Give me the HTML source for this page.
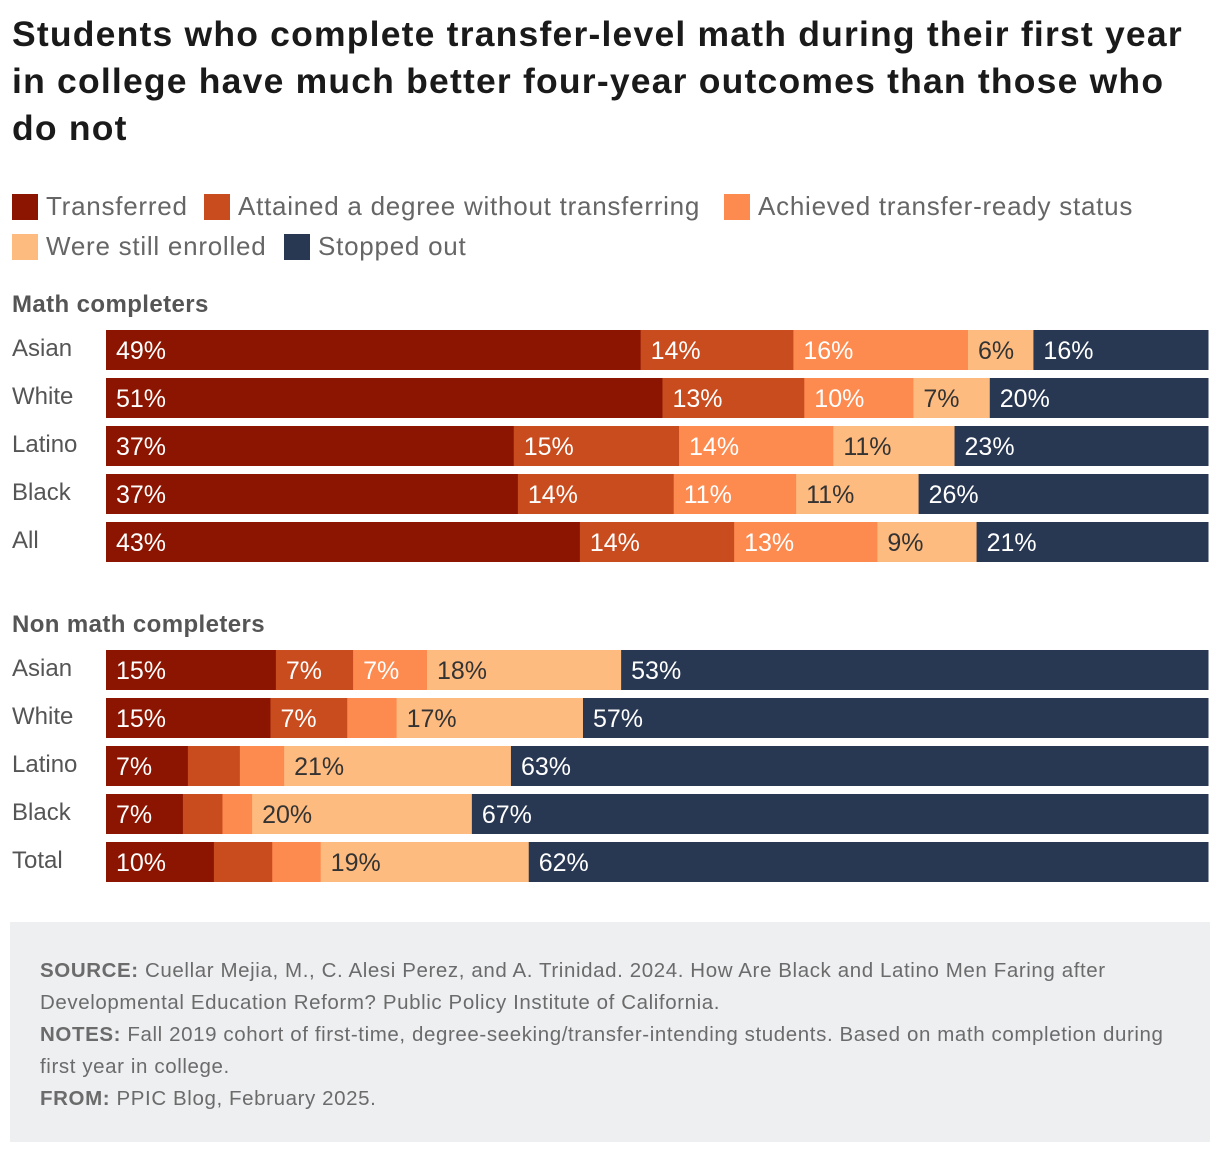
<!DOCTYPE html>
<html><head><meta charset="utf-8"><style>
body{margin:0;width:1220px;height:1152px;background:#fff;font-family:"Liberation Sans",sans-serif;position:relative;overflow:hidden}
.t{position:absolute;left:12px;top:11px;font-size:35.5px;font-weight:bold;line-height:47px;color:#1a1a1a;width:1210px;letter-spacing:1.2px;white-space:nowrap}
.lg{position:absolute;font-size:26px;color:#666;display:flex;align-items:center;letter-spacing:0.75px;white-space:nowrap}
.sw{width:26px;height:26px;margin-right:8px;display:inline-block}
.sec{position:absolute;left:12px;font-size:24px;font-weight:bold;color:#555;letter-spacing:0.4px}
.notes{position:absolute;left:10px;top:922px;width:1200px;height:220px;background:#eeeff1;color:#6b6b6b;font-size:20.5px;line-height:32px;box-sizing:border-box;padding:33px 30px;letter-spacing:0.6px;white-space:nowrap}
.notes b{color:#6b6b6b}
</style></head><body>
<div class="t">Students who complete transfer-level math during their first year<br>in college have much better four-year outcomes than those who<br>do not</div>
<div class="lg" style="left:12px;top:191px"><span class="sw" style="background:#8b1500"></span>Transferred</div>
<div class="lg" style="left:204px;top:191px"><span class="sw" style="background:#c94c1e"></span>Attained a degree without transferring</div>
<div class="lg" style="left:724px;top:191px"><span class="sw" style="background:#fd8a4f"></span>Achieved transfer-ready status</div>
<div class="lg" style="left:12px;top:231px"><span class="sw" style="background:#fdbb80"></span>Were still enrolled</div>
<div class="lg" style="left:284px;top:231px"><span class="sw" style="background:#283752"></span>Stopped out</div>
<div class="sec" style="top:291px">Math completers</div>
<div class="sec" style="top:611px">Non math completers</div>
<svg id="chart" width="1220" height="1152" style="position:absolute;left:0;top:0"></svg>
<div class="notes"><b>SOURCE:</b> Cuellar Mejia, M., C. Alesi Perez, and A. Trinidad. 2024. How Are Black and Latino Men Faring after<br>Developmental Education Reform? Public Policy Institute of California.<br><b>NOTES:</b> Fall 2019 cohort of first-time, degree-seeking/transfer-intending students. Based on math completion during<br>first year in college.<br><b>FROM:</b> PPIC Blog, February 2025.</div>
<script>
const mathCats=["Asian","White","Latino","Black","All"];
const mathVals=[[49,14,16,6,16],[51,13,10,7,20],[37,15,14,11,23],[37,14,11,11,26],[43,14,13,9,21]];
const nonCats=["Asian","White","Latino","Black","Total"];
const nonVals=[[15.4,7,6.7,17.6,53.2],[15,7,4.5,17,57],[7.4,4.7,4,20.5,63],[7,3.6,2.7,20,67],[9.8,5.3,4.4,18.9,61.7]];
const colors=["#8b1500","#c94c1e","#fd8a4f","#fdbb80","#283752"];
const svg=document.getElementById('chart');
const NS="http://www.w3.org/2000/svg";
const X0=106,W=1102,BH=40,PITCH=48;
function draw(cats,vals,top){
  cats.forEach((c,i)=>{
    const y=top+i*PITCH;
    const lab=document.createElementNS(NS,'text');
    lab.setAttribute('x',12);lab.setAttribute('y',y+26);
    lab.setAttribute('font-size','24');lab.setAttribute('fill','#555');
    lab.setAttribute('font-family','Liberation Sans, sans-serif');
    lab.textContent=c;
    
    
    svg.appendChild(lab);
    const row=vals[i];const sum=row.reduce((a,b)=>a+b,0);
    let x=X0;
    row.forEach((v,j)=>{
      const w=v/sum*W;
      const r=document.createElementNS(NS,'rect');
      r.setAttribute('x',x);r.setAttribute('y',y);r.setAttribute('width',w+0.5);r.setAttribute('height',BH);
      r.setAttribute('fill',colors[j]);
      
      
      svg.appendChild(r);
      if(Math.round(v)>=6){
        const t=document.createElementNS(NS,'text');
        t.setAttribute('x',x+10);t.setAttribute('y',y+29);
        t.setAttribute('font-size','25');t.setAttribute('fill',j===3?'#333':'#fff');
        t.setAttribute('font-family','Liberation Sans, sans-serif');
        t.textContent=Math.round(v)+'%';
        
        
        svg.appendChild(t);
      }
      x+=w;
    });
  });
}
draw(mathCats,mathVals,330);
draw(nonCats,nonVals,650);
</script>
</body></html>
